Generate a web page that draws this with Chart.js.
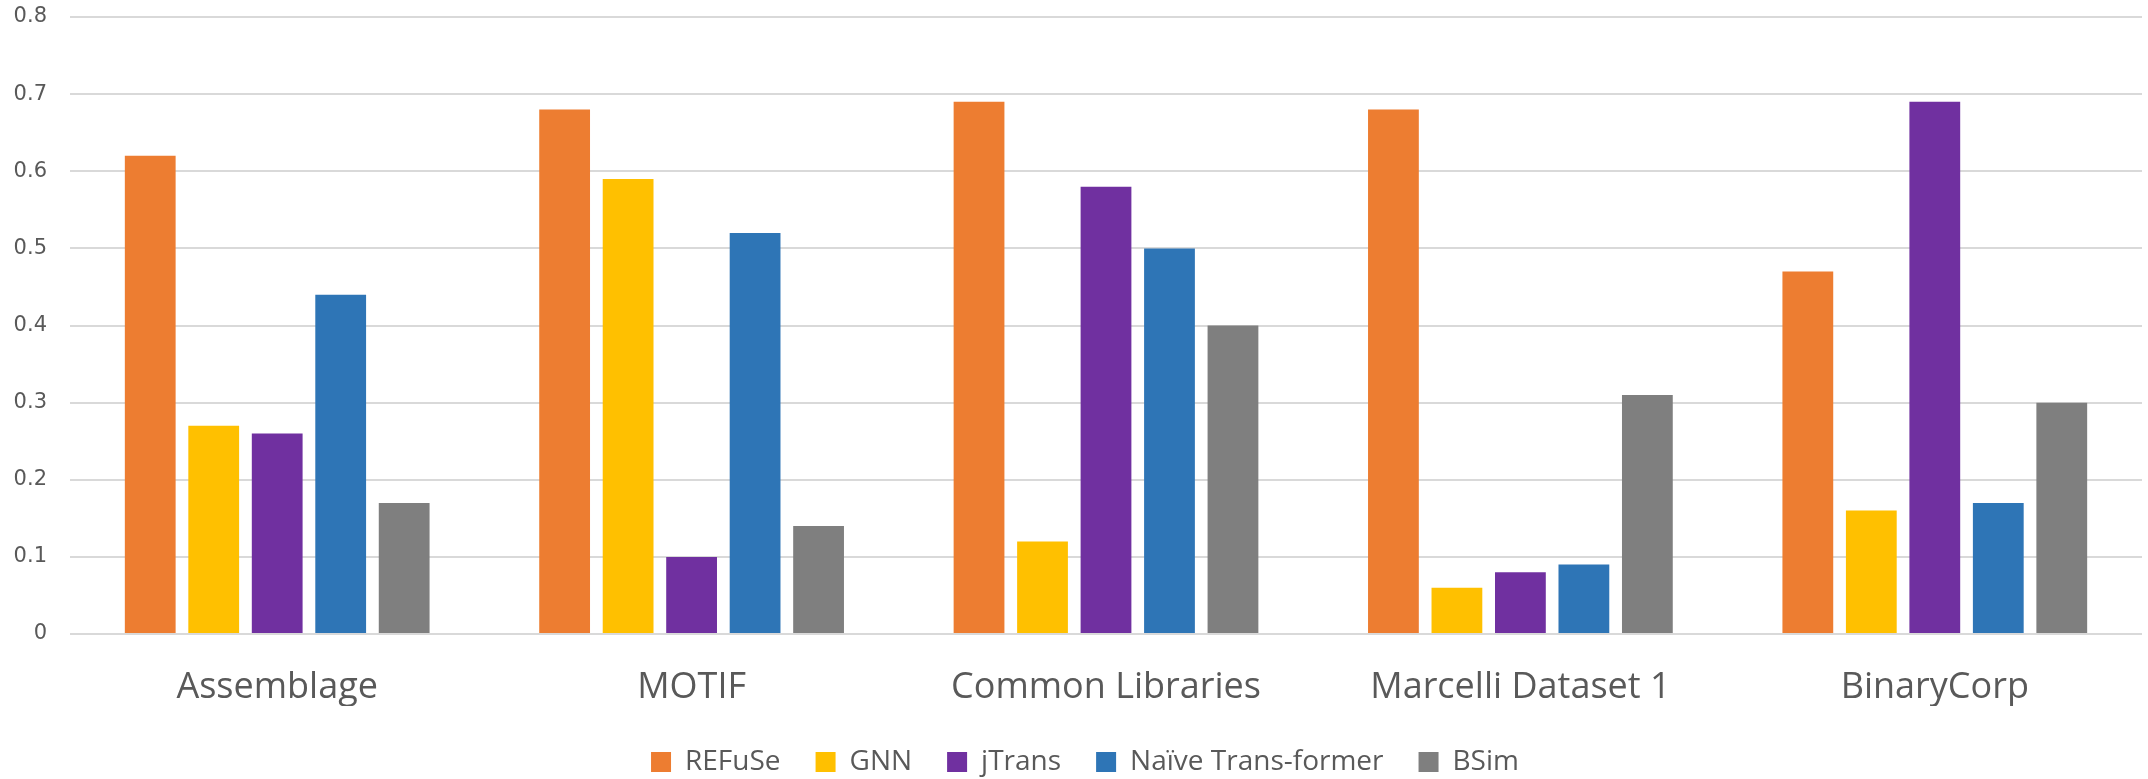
<!DOCTYPE html>
<html>
<head>
<meta charset="utf-8">
<script src="https://cdn.jsdelivr.net/npm/chart.js@4/dist/chart.umd.min.js"></script>
<style>
  html, body { margin: 0; padding: 0; background: #ffffff; }
  #wrap { width: 2148px; height: 779px; position: relative; }
</style>
</head>
<body>
<div id="wrap"><canvas id="c" width="2148" height="779"></canvas></div>
<script>
// Datasets compared, one group of bars per dataset
const categories = ["Assemblage", "MOTIF", "Common Libraries", "Marcelli Dataset 1", "BinaryCorp"];

// Scores per method, in category order
const refuse     = [0.62, 0.68, 0.69, 0.68, 0.47];
const gnn        = [0.27, 0.59, 0.12, 0.06, 0.16];
const jtrans     = [0.26, 0.10, 0.58, 0.08, 0.69];
const naive      = [0.44, 0.52, 0.50, 0.09, 0.17];
const bsim       = [0.17, 0.14, 0.40, 0.31, 0.30];

const seriesNames = ["REFuSe", "GNN", "jTrans", "Naïve Trans-former", "BSim"];
const seriesColors = ["#ED7D31", "#FFC000", "#7030A0", "#2E75B6", "#7F7F7F"];

// Value axis ticks
const yTicks = [0, 0.1, 0.2, 0.3, 0.4, 0.5, 0.6, 0.7, 0.8];

const seriesValues = [refuse, gnn, jtrans, naive, bsim];
const datasets = seriesNames.map((name, i) => ({
  label: name,
  data: seriesValues[i],
  backgroundColor: seriesColors[i],
  borderWidth: 0,
  categoryPercentage: 0.766,
  barPercentage: 0.8
}));

// Nudge the legend block so it sits under the middle of the figure
const legendOffset = {
  id: "legendOffset",
  afterLayout(chart) {
    const lg = chart.legend;
    if (!lg) return;
    const dx = 14, dy = 7;
    lg.left += dx; lg.right += dx;
    lg.top += dy; lg.bottom += dy;
  }
};

new Chart(document.getElementById("c"), {
  type: "bar",
  data: { labels: categories, datasets: datasets },
  plugins: [legendOffset],
  options: {
    responsive: false,
    animation: false,
    devicePixelRatio: 1,
    layout: { padding: { left: 0, right: 6, top: 0, bottom: 0 } },
    plugins: {
      tooltip: { enabled: false },
      legend: {
        position: "bottom",
        labels: {
          boxWidth: 20,
          boxHeight: 20,
          padding: 35,
          color: "#595959",
          font: { family: "Open Sans", size: 28 }
        }
      }
    },
    scales: {
      x: {
        grid: { display: false, drawTicks: false },
        border: { display: false },
        ticks: {
          color: "#595959",
          font: { family: "Open Sans", size: 36 },
          padding: 32,
          maxRotation: 0
        },
        afterFit: (s) => { s.height = 72; }
      },
      y: {
        min: 0,
        max: 0.8,
        afterBuildTicks: (s) => { s.ticks = yTicks.map(v => ({ value: v })); },
        grid: { color: "#D9D9D9", lineWidth: 2, drawTicks: false },
        border: { display: false },
        ticks: {
          color: "#595959",
          font: { family: "DejaVu Sans", size: 21 },
          padding: 23,
          callback: (v) => String(Math.round(v * 10) / 10)
        },
        afterFit: (s) => { s.width = 70; s.paddingTop = 17; s.paddingBottom = 0; }
      }
    }
  }
});
</script>
</body>
</html>
